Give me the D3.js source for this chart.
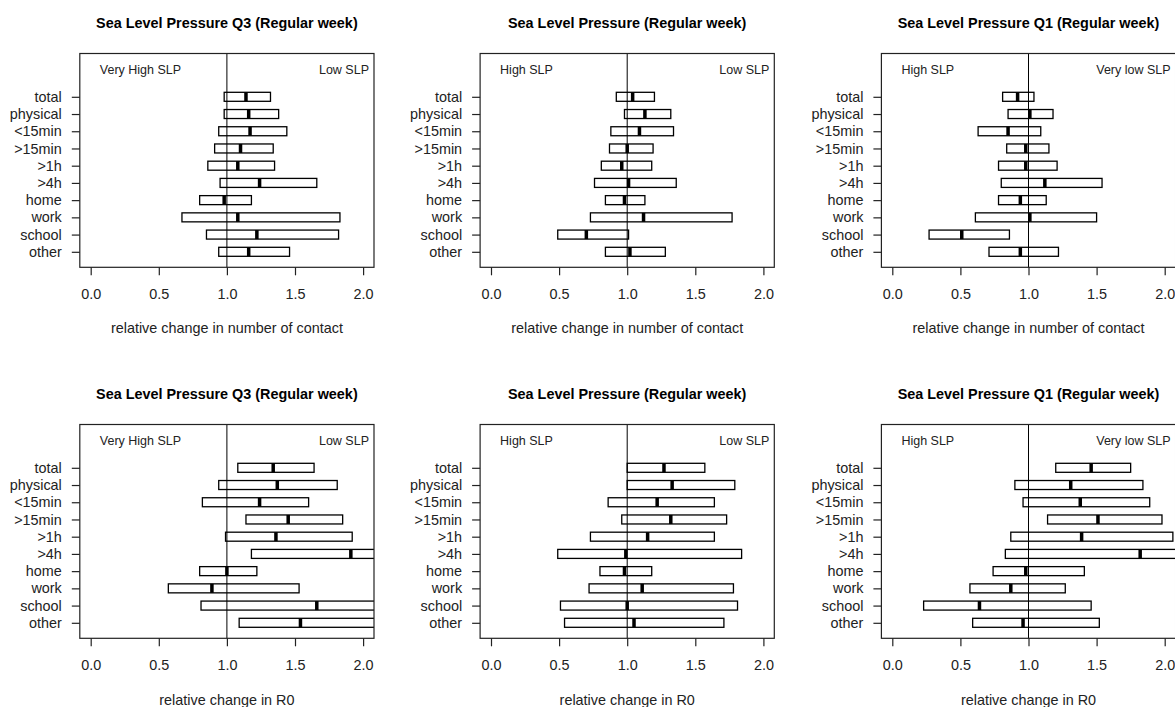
<!DOCTYPE html>
<html>
<head>
<meta charset="utf-8">
<script src="https://cdn.jsdelivr.net/npm/d3@7"></script>
<style>
  html, body { margin: 0; padding: 0; background: #fff; }
  svg { display: block; }
  text { font-family: "Liberation Sans", Arial, sans-serif; fill: #111; }
</style>
</head>
<body>
<svg id="chart" width="1175" height="707"></svg>
<script>
// ---------------- data ----------------
const categories = ["total", "physical", "<15min", ">15min", ">1h", ">4h", "home", "work", "school", "other"];
const tickValues = [0, 0.5, 1, 1.5, 2];
const tickLabels = ["0.0", "0.5", "1.0", "1.5", "2.0"];

const panelTitles = [
  "Sea Level Pressure Q3 (Regular week)",
  "Sea Level Pressure (Regular week)",
  "Sea Level Pressure Q1 (Regular week)"
];
const leftNotes = ["Very High SLP", "High SLP", "High SLP"];
const rightNotes = ["Low SLP", "Low SLP", "Very low SLP"];
const xLabels = ["relative change in number of contact", "relative change in R0"];

// Contacts, Q3
const contactQ3Low  = [0.98, 0.98, 0.94, 0.91, 0.86, 0.95, 0.80, 0.67, 0.85, 0.94];
const contactQ3Mid  = [1.14, 1.16, 1.17, 1.10, 1.08, 1.24, 0.98, 1.08, 1.22, 1.16];
const contactQ3High = [1.32, 1.38, 1.44, 1.34, 1.35, 1.66, 1.18, 1.83, 1.82, 1.46];
// Contacts, all
const contactAllLow  = [0.92, 0.98, 0.88, 0.87, 0.81, 0.76, 0.84, 0.73, 0.49, 0.84];
const contactAllMid  = [1.04, 1.13, 1.09, 1.00, 0.96, 1.01, 0.98, 1.12, 0.70, 1.02];
const contactAllHigh = [1.20, 1.32, 1.34, 1.19, 1.18, 1.36, 1.13, 1.77, 1.01, 1.28];
// Contacts, Q1
const contactQ1Low  = [0.81, 0.85, 0.63, 0.84, 0.78, 0.80, 0.78, 0.61, 0.27, 0.71];
const contactQ1Mid  = [0.92, 1.01, 0.85, 0.98, 0.98, 1.12, 0.94, 1.01, 0.51, 0.94];
const contactQ1High = [1.04, 1.18, 1.09, 1.15, 1.21, 1.54, 1.13, 1.50, 0.86, 1.22];
// R0, Q3
const r0Q3Low  = [1.08, 0.94, 0.82, 1.14, 0.99, 1.18, 0.80, 0.57, 0.81, 1.09];
const r0Q3Mid  = [1.34, 1.37, 1.24, 1.45, 1.36, 1.91, 1.00, 0.89, 1.66, 1.54];
const r0Q3High = [1.64, 1.81, 1.60, 1.85, 1.92, 2.40, 1.22, 1.53, 2.60, 2.45];
// R0, all
const r0AllLow  = [1.00, 1.00, 0.86, 0.96, 0.73, 0.49, 0.80, 0.72, 0.51, 0.54];
const r0AllMid  = [1.27, 1.33, 1.22, 1.32, 1.15, 0.99, 0.98, 1.11, 1.00, 1.05];
const r0AllHigh = [1.57, 1.79, 1.64, 1.73, 1.64, 1.84, 1.18, 1.78, 1.81, 1.71];
// R0, Q1
const r0Q1Low  = [1.20, 0.90, 0.96, 1.14, 0.87, 0.83, 0.74, 0.57, 0.23, 0.59];
const r0Q1Mid  = [1.46, 1.31, 1.38, 1.51, 1.39, 1.82, 0.98, 0.87, 0.64, 0.96];
const r0Q1High = [1.75, 1.84, 1.89, 1.98, 2.06, 2.35, 1.41, 1.27, 1.46, 1.52];

const panelData = [
  [contactQ3Low, contactQ3Mid, contactQ3High],
  [contactAllLow, contactAllMid, contactAllHigh],
  [contactQ1Low, contactQ1Mid, contactQ1High],
  [r0Q3Low, r0Q3Mid, r0Q3High],
  [r0AllLow, r0AllMid, r0AllHigh],
  [r0Q1Low, r0Q1Mid, r0Q1High]
];

// ---------------- layout ----------------
const colZero = [90.7, 491, 892.3];      // pixel of value 0 in each column
const unitPx = 136.2;
const xDomain = [-0.08, 2.08];
const boxTop = [53.5, 424.5];
const boxBottom = [267.3, 638.3];
const catFirst = [96.8, 467.8];
const catLast = [251.8, 622.8];
const titleY = [28, 399];
const noteY = [73.8, 444.8];
const xLabelY = [332.5, 704.5];
const barH = 9;
const medW = 3.5;

const svg = d3.select("#chart");
svg.append("rect").attr("width", 1175).attr("height", 707).attr("fill", "#fff");
const defs = svg.append("defs");

for (let row = 0; row < 2; row++) {
  for (let col = 0; col < 3; col++) {
    const idx = row * 3 + col;
    const [lo, mid, hi] = panelData[idx];
    const x = d3.scaleLinear()
      .domain(xDomain)
      .range([colZero[col] + xDomain[0] * unitPx, colZero[col] + xDomain[1] * unitPx]);
    const y = d3.scalePoint().domain(categories).range([catFirst[row], catLast[row]]);
    const left = x.range()[0], right = x.range()[1];
    const top = boxTop[row], bottom = boxBottom[row];
    const g = svg.append("g");

    // title
    g.append("text")
      .attr("x", (left + right) / 2).attr("y", titleY[row])
      .attr("text-anchor", "middle")
      .style("font-size", "14.4px").style("font-weight", "bold").style("fill", "#000")
      .text(panelTitles[col]);

    // clip
    const clipId = "clip" + idx;
    defs.append("clipPath").attr("id", clipId)
      .append("rect").attr("x", left).attr("y", top).attr("width", right - left).attr("height", bottom - top);

    // reference line at 1
    g.append("line")
      .attr("x1", x(1)).attr("x2", x(1)).attr("y1", top).attr("y2", bottom)
      .attr("stroke", "#000").attr("stroke-width", 1);

    // bars
    const bars = g.append("g").attr("clip-path", `url(#${clipId})`);
    categories.forEach((c, i) => {
      bars.append("rect")
        .attr("x", x(lo[i])).attr("y", y(c) - barH / 2)
        .attr("width", x(hi[i]) - x(lo[i])).attr("height", barH)
        .attr("fill", "none").attr("stroke", "#000").attr("stroke-width", 1.3);
      bars.append("rect")
        .attr("x", x(mid[i]) - medW / 2).attr("y", y(c) - barH / 2)
        .attr("width", medW).attr("height", barH)
        .attr("fill", "#000");
    });

    // box
    g.append("rect")
      .attr("x", left).attr("y", top).attr("width", right - left).attr("height", bottom - top)
      .attr("fill", "none").attr("stroke", "#222").attr("stroke-width", 1.2);

    // notes
    g.append("text")
      .attr("x", left + 20).attr("y", noteY[row])
      .style("font-size", "12.5px").style("fill", "#222")
      .text(leftNotes[col]);
    g.append("text")
      .attr("x", right - 5).attr("y", noteY[row])
      .attr("text-anchor", "end")
      .style("font-size", "12.5px").style("fill", "#222")
      .text(rightNotes[col]);

    // x axis
    const xAxis = d3.axisBottom(x)
      .tickValues(tickValues)
      .tickFormat((d, i) => tickLabels[i])
      .tickSize(8).tickPadding(13);
    const xg = g.append("g").attr("transform", `translate(0,${bottom})`).call(xAxis);
    xg.select(".domain").remove();
    xg.selectAll(".tick line").attr("stroke", "#222").attr("stroke-width", 1.2);
    xg.selectAll(".tick text").style("font-size", "14.4px").style("fill", "#222");

    // y axis
    const yAxis = d3.axisLeft(y).tickSize(8).tickPadding(10);
    const yg = g.append("g").attr("transform", `translate(${left},0)`).call(yAxis);
    yg.select(".domain").remove();
    yg.selectAll(".tick line").attr("stroke", "#222").attr("stroke-width", 1.2);
    yg.selectAll(".tick text").style("font-size", "14.4px").style("fill", "#222");

    // x label
    g.append("text")
      .attr("x", (left + right) / 2).attr("y", xLabelY[row])
      .attr("text-anchor", "middle")
      .style("font-size", "14.4px").style("fill", "#222")
      .text(xLabels[row]);
  }
}
d3.selectAll("g").attr("font-family", null);
</script>
</body>
</html>
